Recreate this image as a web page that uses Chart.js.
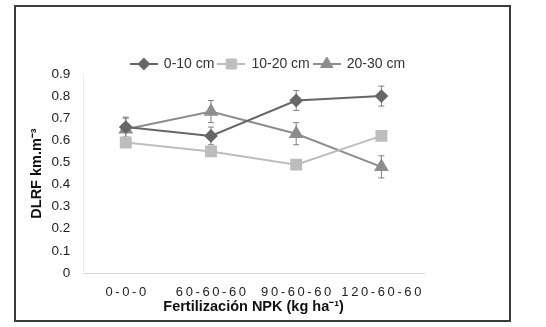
<!DOCTYPE html>
<html lang="en">
<head>
    <meta charset="UTF-8">
    <title>DLRF chart</title>
    <script src="https://cdn.jsdelivr.net/npm/chart.js"></script>
    <style>
        body { margin: 0; background: #fff; }
        .frame {
            position: absolute; left: 14px; top: 5px;
            width: 493px; height: 313px;
            border: 2px solid #3c3c3c;
        }
    </style>
</head>
<body>
<div class="frame">
    <canvas id="dlrf-chart"></canvas>
</div>

<script>
    // data
    const categories = ['0-0-0', '60-60-60', '90-60-60', '120-60-60'];
    const depth0_10 = [0.66, 0.62, 0.78, 0.80];
    const err0_10 = [0.045, 0.04, 0.045, 0.045];
    const depth10_20 = [0.59, 0.55, 0.49, 0.62];
    const err10_20 = [0.02, 0.02, 0.02, 0.02];
    const depth20_30 = [0.65, 0.73, 0.63, 0.48];
    const err20_30 = [0.05, 0.05, 0.05, 0.05];
    const yTicks = [0, 0.1, 0.2, 0.3, 0.4, 0.5, 0.6, 0.7, 0.8, 0.9];

    const FONT = "'Liberation Sans', Arial, sans-serif";

    // little line + marker icon for the legend
    function legendIcon(color, style, radius) {
        const c = document.createElement('canvas');
        c.width = 28; c.height = 14;
        const g = c.getContext('2d');
        g.strokeStyle = color; g.lineWidth = 2;
        g.beginPath(); g.moveTo(0, 7); g.lineTo(28, 7); g.stroke();
        g.fillStyle = color;
        Chart.helpers.drawPoint(g, { pointStyle: style, radius: radius, rotation: 0, borderWidth: 1 }, 14, 7);
        return c;
    }

    // error bars, drawn under the markers
    const errorBars = {
        id: 'errorBars',
        beforeDatasetsDraw(chart) {
            const ctx = chart.ctx;
            const y = chart.scales.y;
            ctx.save();
            ctx.strokeStyle = '#7f7f7f';
            ctx.lineWidth = 1;
            chart.data.datasets.forEach((ds, i) => {
                const meta = chart.getDatasetMeta(i);
                meta.data.forEach((pt, j) => {
                    const v = ds.data[j], e = ds.errors[j];
                    const top = y.getPixelForValue(v + e);
                    const bot = y.getPixelForValue(v - e);
                    ctx.beginPath();
                    ctx.moveTo(pt.x, top); ctx.lineTo(pt.x, bot);
                    ctx.moveTo(pt.x - 3, top); ctx.lineTo(pt.x + 3, top);
                    ctx.moveTo(pt.x - 3, bot); ctx.lineTo(pt.x + 3, bot);
                    ctx.stroke();
                });
            });
            ctx.restore();
        }
    };

    // tweaks: tighter legend box, legend offset, spaced x tick labels
    const LEGEND_TRIM = 7;
    const tweaks = {
        id: 'tweaks',
        beforeInit(chart) {
            const lg = chart.legend;
            const fit = lg.fit;
            lg.fit = function () { fit.call(this); this.height -= LEGEND_TRIM; };
            const draw = lg.draw;
            lg.draw = function () {
                const b = this.bottom;
                this.bottom = b + LEGEND_TRIM;   // don't clip the text
                chart.ctx.save(); chart.ctx.translate(42, 0);
                draw.call(this);
                chart.ctx.restore();
                this.bottom = b;
            };
        },
        beforeDraw(chart) {
            const x = chart.scales.x;
            if (x._spaced) return;
            x._spaced = true;
            const orig = x.drawLabels;
            x.drawLabels = function (area) {
                this.ctx.save();
                this.ctx.letterSpacing = '2.6px';
                this.ctx.translate(1.3, 0);
                orig.call(this, area);
                this.ctx.restore();
            };
        }
    };

    new Chart(document.getElementById('dlrf-chart'), {
        type: 'line',
        data: {
            labels: categories,
            datasets: [
                {
                    label: '0-10 cm', data: depth0_10, errors: err0_10,
                    borderColor: '#676767', backgroundColor: '#676767',
                    borderWidth: 2, pointStyle: 'rectRot', pointRadius: 5.5,
                    legendIcon: legendIcon('#676767', 'rectRot', 5)
                },
                {
                    label: '10-20 cm', data: depth10_20, errors: err10_20,
                    borderColor: '#bdbdbd', backgroundColor: '#bdbdbd',
                    borderWidth: 2, pointStyle: 'rect', pointRadius: 7,
                    legendIcon: legendIcon('#bdbdbd', 'rect', 6.5)
                },
                {
                    label: '20-30 cm', data: depth20_30, errors: err20_30,
                    borderColor: '#8d8d8d', backgroundColor: '#8d8d8d',
                    borderWidth: 2, pointStyle: 'triangle', pointRadius: 6.5,
                    legendIcon: legendIcon('#8d8d8d', 'triangle', 6)
                }
            ]
        },
        options: {
            responsive: true,
            maintainAspectRatio: false,
            animation: false,
            layout: { padding: { left: 12, right: 85, top: 46, bottom: 4 } },
            plugins: {
                tooltip: { enabled: false },
                legend: {
                    position: 'top',
                    labels: {
                        usePointStyle: true,
                        pointStyleWidth: 26,
                        padding: 4,
                        color: '#333',
                        font: { family: FONT, size: 14 },
                        generateLabels(chart) {
                            return chart.data.datasets.map((ds, i) => ({
                                text: ds.label,
                                pointStyle: ds.legendIcon,
                                fontColor: '#333',
                                lineWidth: 0,
                                hidden: false,
                                datasetIndex: i
                            }));
                        }
                    }
                }
            },
            scales: {
                x: {
                    offset: true,
                    grid: { display: false, drawTicks: false },
                    border: { color: '#d9d9d9', width: 1 },
                    ticks: { color: '#222', padding: 12, maxRotation: 0, font: { family: FONT, size: 13 } },
                    afterFit(axis) { axis.height -= 14; },
                    title: {
                        display: true,
                        text: 'Fertilización NPK (kg ha⁻¹)',
                        color: '#111',
                        padding: 0,
                        font: { family: FONT, size: 14.5, weight: 'bold' }
                    }
                },
                y: {
                    min: 0, max: 0.9,
                    afterBuildTicks(axis) { axis.ticks = yTicks.map(v => ({ value: v })); },
                    afterFit(axis) { axis.width -= 7; },
                    grid: { display: false, drawTicks: false },
                    border: { color: '#ececec', width: 1 },
                    ticks: {
                        color: '#222', padding: 13,
                        font: { family: FONT, size: 13.5 },
                        callback: v => String(Math.round(v * 10) / 10)
                    },
                    title: {
                        display: true,
                        text: 'DLRF km.m⁻³',
                        color: '#111',
                        padding: 0,
                        font: { family: FONT, size: 14.5, weight: 'bold' }
                    }
                }
            }
        },
        plugins: [errorBars, tweaks]
    });
</script>
</body>
</html>
